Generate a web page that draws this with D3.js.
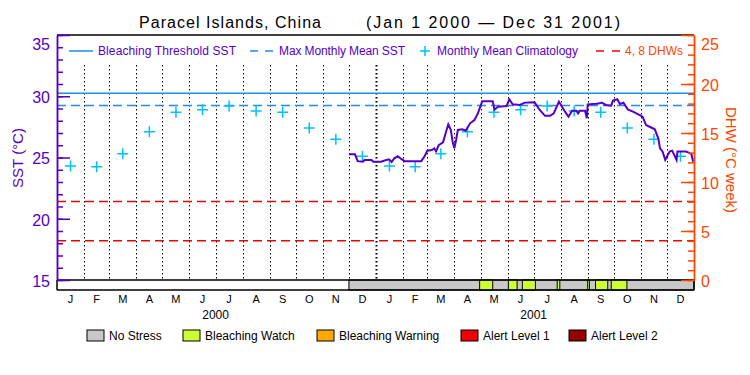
<!DOCTYPE html>
<html>
<head>
<script src="https://d3js.org/d3.v7.min.js"></script>
<style>
  body { margin: 0; background: #fff; }
  text { font-family: "Liberation Sans", Arial, sans-serif; }
</style>
</head>
<body>
<svg id="chart" width="750" height="375"></svg>
<script>
const monthLetters = ['J', 'F', 'M', 'A', 'M', 'J', 'J', 'A', 'S', 'O', 'N', 'D']
const years = ['2000', '2001']
// monthly mean climatology, same for both years (°C)
const climatology = [24.3, 24.25, 25.3, 27.1, 28.7, 28.9, 29.2, 28.8, 28.7, 27.4, 26.5, 25.1]
const maxMonthlyMean = 29.25
const bleachingThreshold = 30.25
const dhwLevels = [4, 8]

// SST (data only from Dec 2000)
const sstDates = ['2000-12-01', '2000-12-08', '2000-12-11', '2000-12-17', '2000-12-19', '2000-12-27', '2000-12-29',
  '2001-01-07', '2001-01-11', '2001-01-16', '2001-01-19', '2001-01-22', '2001-01-26', '2001-01-30', '2001-02-03',
  '2001-02-22', '2001-02-26', '2001-03-01', '2001-03-06', '2001-03-09', '2001-03-11', '2001-03-14', '2001-03-19',
  '2001-03-22', '2001-03-25', '2001-03-28', '2001-03-30', '2001-04-01', '2001-04-03', '2001-04-05', '2001-04-10',
  '2001-04-14', '2001-04-19', '2001-04-24', '2001-04-28', '2001-05-03', '2001-05-15', '2001-05-17', '2001-05-21',
  '2001-05-31', '2001-06-03', '2001-06-07', '2001-06-15', '2001-06-21', '2001-07-02', '2001-07-08', '2001-07-14',
  '2001-07-20', '2001-07-24', '2001-07-30', '2001-08-02', '2001-08-06', '2001-08-10', '2001-08-14', '2001-08-19',
  '2001-08-21', '2001-08-23', '2001-08-29', '2001-08-31', '2001-09-01', '2001-09-11', '2001-09-15', '2001-09-17',
  '2001-09-22', '2001-09-28', '2001-09-30', '2001-10-05', '2001-10-08', '2001-10-12', '2001-10-17', '2001-10-23',
  '2001-10-29', '2001-11-03', '2001-11-07', '2001-11-11', '2001-11-17', '2001-11-21', '2001-11-23', '2001-11-26',
  '2001-11-29', '2001-12-04', '2001-12-07', '2001-12-12', '2001-12-13', '2001-12-23', '2001-12-29', '2001-12-31']
const sstValues = [25.26, 25.26, 24.7, 24.65, 24.8, 24.8, 24.65,
  24.65, 24.75, 24.85, 24.63, 24.93, 25.1, 24.88, 24.7,
  24.7, 25.12, 25.56, 25.61, 25.75, 25.5, 26.0, 26.24,
  26.98, 27.71, 27.24, 26.29, 25.75, 26.43, 27.25, 27.3,
  27.19, 27.79, 28.06, 28.6, 29.6, 29.6, 28.9, 29.15,
  29.2, 29.75, 29.35, 29.29, 29.48, 29.5, 28.88, 28.4,
  28.4, 28.6, 29.55, 29.2, 28.74, 28.33, 28.82, 28.82,
  28.6, 28.82, 28.82, 28.2, 29.34, 29.39, 29.42, 29.48,
  29.29, 29.23, 29.64, 29.75, 29.37, 29.47, 28.93, 28.74,
  28.52, 28.33, 27.65, 27.51, 27.3, 26.57, 25.75, 25.48,
  24.8, 25.48, 25.56, 24.8, 25.48, 25.48, 25.29, 24.65]

// stress level bar
const noStressPeriod = ['2000-12-01', '2002-01-01']
const watchStarts = ['2001-04-30', '2001-06-02', '2001-06-18', '2001-07-28', '2001-09-01', '2001-09-10', '2001-09-28']
const watchEnds = ['2001-05-15', '2001-06-12', '2001-07-03', '2001-07-31', '2001-09-03', '2001-09-24', '2001-10-16']
const stressNames = ['No Stress', 'Bleaching Watch', 'Bleaching Warning', 'Alert Level 1', 'Alert Level 2']
const stressColors = ['#c8c8c8', '#ccff33', '#ffaa00', '#f00000', '#960000']

const leftTicks = [15, 20, 25, 30, 35]
const rightTicks = [0, 5, 10, 15, 20, 25]

const purple = '#5500c8'
const orange = '#ff4600'
const blue = '#1e8cf0'
const cyan = '#00c0ff'
const red = '#f00000'

const parse = d3.utcParse('%Y-%m-%d')
const plot = { left: 57, right: 694, top: 35, bottom: 280, bar: 290 }

const svg = d3.select('#chart')
const x = d3.scaleUtc().domain([parse('2000-01-01'), parse('2002-01-01')]).range([plot.left, plot.right])
const ySst = d3.scaleLinear().domain([15, 35]).range([plot.bottom, plot.top])
const yDhw = d3.scaleLinear().domain([0, 25]).range([plot.bottom, plot.top])

// title
svg.append('text').attr('x', 139).attr('y', 28).attr('font-size', 16)
  .attr('textLength', 182).text('Paracel Islands, China')
svg.append('text').attr('x', 366).attr('y', 28).attr('font-size', 16)
  .attr('textLength', 254).text('(Jan 1 2000 \u2014 Dec 31 2001)')

// month boundaries (dotted)
const months = d3.utcMonth.range(parse('2000-01-01'), parse('2002-01-01'))
svg.append('g').selectAll('line').data(months.slice(1)).join('line')
  .attr('x1', d => Math.round(x(d)) + 0.5).attr('x2', d => Math.round(x(d)) + 0.5)
  .attr('y1', 65).attr('y2', plot.bottom)
  .attr('stroke', '#000')
  .attr('stroke-width', d => d.getUTCMonth() === 0 ? 2 : 1)
  .attr('stroke-dasharray', '1.5,2.5')

// reference lines
const hline = (y, color, dash) => svg.append('line')
  .attr('x1', plot.left).attr('x2', plot.right).attr('y1', y).attr('y2', y)
  .attr('stroke', color).attr('stroke-width', 1.5).attr('stroke-dasharray', dash)
hline(ySst(bleachingThreshold), blue, null)
hline(ySst(maxMonthlyMean), blue, '9,5')
dhwLevels.forEach(v => hline(yDhw(v), red, '9,5'))

// climatology crosses
const climPoints = []
months.forEach(m => {
  const mid = new Date((+m + +d3.utcMonth.offset(m, 1)) / 2)
  climPoints.push({ date: mid, v: climatology[m.getUTCMonth()] })
})
svg.append('g').selectAll('path').data(climPoints).join('path')
  .attr('d', d => {
    const cx = x(d.date), cy = ySst(d.v)
    return `M${cx - 5.5},${cy}H${cx + 5.5}M${cx},${cy - 5.5}V${cy + 5.5}`
  })
  .attr('stroke', cyan).attr('stroke-width', 1.5).attr('fill', 'none')

// SST line
const sst = sstDates.map((d, i) => ({ date: parse(d), v: sstValues[i] }))
svg.append('path').datum(sst)
  .attr('d', d3.line().x(d => x(d.date)).y(d => ySst(d.v)))
  .attr('fill', 'none').attr('stroke', purple).attr('stroke-width', 2)

// stress bar
svg.append('rect')
  .attr('x', x(parse(noStressPeriod[0]))).attr('y', plot.bottom)
  .attr('width', x(parse(noStressPeriod[1])) - x(parse(noStressPeriod[0])))
  .attr('height', plot.bar - plot.bottom)
  .attr('fill', stressColors[0]).attr('stroke', '#000')
svg.append('g').selectAll('rect').data(watchStarts).join('rect')
  .attr('x', d => x(parse(d)))
  .attr('width', (d, i) => x(parse(watchEnds[i])) - x(parse(d)))
  .attr('y', plot.bottom).attr('height', plot.bar - plot.bottom)
  .attr('fill', stressColors[1]).attr('stroke', '#000')

// frame
svg.append('line').attr('x1', plot.left).attr('x2', plot.right).attr('y1', plot.top).attr('y2', plot.top)
  .attr('stroke', '#000').attr('stroke-width', 1.5)
svg.append('line').attr('x1', plot.left).attr('x2', plot.right).attr('y1', plot.bottom).attr('y2', plot.bottom)
  .attr('stroke', '#000').attr('stroke-width', 1.5)
svg.append('line').attr('x1', plot.left).attr('x2', plot.right).attr('y1', plot.bar).attr('y2', plot.bar)
  .attr('stroke', '#000').attr('stroke-width', 1.5)
svg.append('line').attr('x1', plot.left).attr('x2', plot.left).attr('y1', plot.bottom).attr('y2', plot.bar)
  .attr('stroke', '#000').attr('stroke-width', 1.5)
svg.append('line').attr('x1', plot.right).attr('x2', plot.right).attr('y1', plot.bottom).attr('y2', plot.bar)
  .attr('stroke', '#000').attr('stroke-width', 1.5)

// left axis
const styleAxis = (g, color) => {
  g.select('.domain').attr('stroke', color).attr('stroke-width', 1.5)
  g.selectAll('.tick line').attr('stroke', color).attr('stroke-width', 1.5)
  g.selectAll('.tick text').attr('fill', color).attr('font-size', 16)
    .attr('font-family', '"Liberation Sans", Arial, sans-serif')
}
svg.append('g').attr('transform', `translate(${plot.left},0)`)
  .call(d3.axisLeft(ySst).tickValues(d3.range(15, 36)).tickSize(-6).tickSizeOuter(0).tickFormat(''))
  .call(g => styleAxis(g, purple))
svg.append('g').attr('transform', `translate(${plot.left},0)`)
  .call(d3.axisLeft(ySst).tickValues(leftTicks).tickSize(-13).tickSizeOuter(0).tickPadding(7))
  .call(g => styleAxis(g, purple))
  .call(g => g.selectAll('.tick text').attr('dy', d => d === 35 ? '0.9em' : '0.4em'))

// right axis
svg.append('g').attr('transform', `translate(${plot.right},0)`)
  .call(d3.axisRight(yDhw).tickValues(d3.range(0, 26)).tickSize(-6).tickSizeOuter(0).tickFormat(''))
  .call(g => styleAxis(g, orange))
svg.append('g').attr('transform', `translate(${plot.right},0)`)
  .call(d3.axisRight(yDhw).tickValues(rightTicks).tickSize(-13).tickSizeOuter(0).tickPadding(7))
  .call(g => styleAxis(g, orange))
  .call(g => g.selectAll('.tick text').attr('dy', d => d === 25 ? '0.9em' : '0.4em'))

// axis titles
svg.append('text').attr('transform', 'translate(23,158) rotate(-90)')
  .attr('text-anchor', 'middle').attr('font-size', 15).attr('fill', purple).text('SST (\u00b0C)')
svg.append('text').attr('transform', 'translate(726,160) rotate(90)')
  .attr('text-anchor', 'middle').attr('font-size', 15).attr('fill', orange).text('DHW (\u00b0C week)')

// month and year labels
svg.append('g').selectAll('text').data(months).join('text')
  .attr('x', d => (x(d) + x(d3.utcMonth.offset(d, 1))) / 2)
  .attr('y', 303).attr('text-anchor', 'middle').attr('font-size', 11)
  .text(d => monthLetters[d.getUTCMonth()])
svg.append('g').selectAll('text').data(years).join('text')
  .attr('x', d => x(parse(d + '-07-01')))
  .attr('y', 319).attr('text-anchor', 'middle').attr('font-size', 12)
  .text(d => d)

// top legend
const legendY = 51
const lg = svg.append('g').attr('font-size', 12)
lg.append('line').attr('x1', 69).attr('x2', 93).attr('y1', legendY).attr('y2', legendY)
  .attr('stroke', blue).attr('stroke-width', 1.5)
lg.append('text').attr('x', 98).attr('y', legendY + 4).attr('fill', purple)
  .attr('textLength', 138).text('Bleaching Threshold SST')
lg.append('line').attr('x1', 250).attr('x2', 273).attr('y1', legendY).attr('y2', legendY)
  .attr('stroke', blue).attr('stroke-width', 1.5).attr('stroke-dasharray', '8,7')
lg.append('text').attr('x', 279).attr('y', legendY + 4).attr('fill', purple)
  .attr('textLength', 126).text('Max Monthly Mean SST')
lg.append('path').attr('d', `M420,${legendY}H430M425,${legendY - 5}V${legendY + 5}`)
  .attr('stroke', cyan).attr('stroke-width', 1.5)
lg.append('text').attr('x', 437).attr('y', legendY + 4).attr('fill', purple)
  .attr('textLength', 141).text('Monthly Mean Climatology')
lg.append('line').attr('x1', 596).attr('x2', 620).attr('y1', legendY).attr('y2', legendY)
  .attr('stroke', red).attr('stroke-width', 1.5).attr('stroke-dasharray', '8,8')
lg.append('text').attr('x', 625).attr('y', legendY + 4).attr('fill', orange)
  .attr('textLength', 58).text('4, 8 DHWs')

// stress legend
const stressX = [87, 183, 317, 461, 569]
const sl = svg.append('g').selectAll('g').data(stressNames).join('g')
  .attr('transform', (d, i) => `translate(${stressX[i]},330)`)
sl.append('rect').attr('width', 17).attr('height', 11)
  .attr('fill', (d, i) => stressColors[i]).attr('stroke', '#000')
sl.append('text').attr('x', 22).attr('y', 10).attr('font-size', 12).text(d => d)
</script>
</body>
</html>
